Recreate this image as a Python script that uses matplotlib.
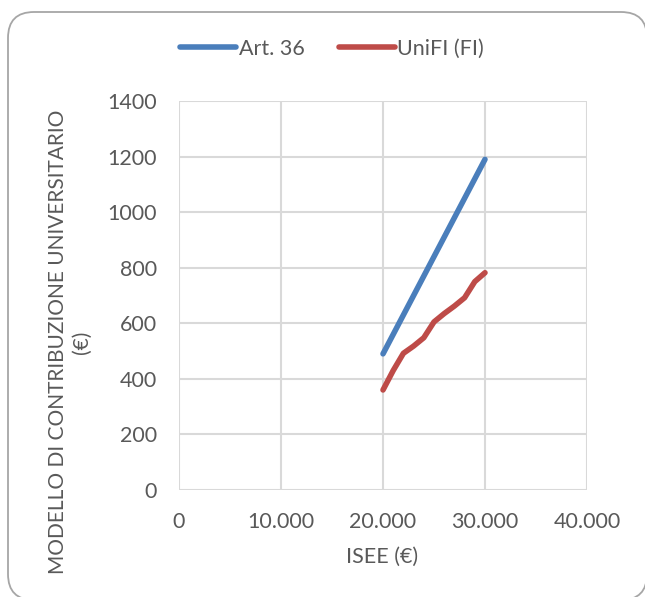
import matplotlib
matplotlib.use("Agg")
import matplotlib.pyplot as plt
from matplotlib.patches import FancyBboxPatch
from matplotlib.ticker import FuncFormatter
from matplotlib.transforms import IdentityTransform

# Data
isee = [20000, 21000, 22000, 23000, 24000, 25000, 26000, 27000, 28000, 29000, 30000]
art36 = [490, 560, 630, 700, 770, 840, 910, 980, 1050, 1120, 1190]
unifi = [360, 430, 492, 518, 548, 605, 635, 662, 692, 750, 782]
series_names = ["Art. 36", "UniFI (FI)"]
x_ticks = [0, 10000, 20000, 30000, 40000]
y_ticks = [0, 200, 400, 600, 800, 1000, 1200, 1400]

plt.rcParams['font.family'] = ['Lato', 'DejaVu Sans']
txt = '#595959'
W, H = 645, 597
fig = plt.figure(figsize=(W/100, H/100), dpi=100)

# rounded chart border (pixel coordinates)
border = FancyBboxPatch((8, -3), 647-8, 585+3,
                        boxstyle="round,pad=0,rounding_size=26",
                        transform=IdentityTransform(), facecolor='white',
                        edgecolor='#a6a6a6', linewidth=1.3, zorder=-5)
fig.patches.append(border)

ax = fig.add_axes([179/W, 1-490/H, (587-179)/W, (490-101)/H])
ax.set_zorder(2)
ax.set_facecolor('none')
ax.plot(isee, art36, color='#4a7ebb', lw=4, solid_capstyle='round',
        solid_joinstyle='round', label=series_names[0], zorder=3)
ax.plot(isee, unifi, color='#be4b48', lw=4, solid_capstyle='round',
        solid_joinstyle='round', label=series_names[1], zorder=3)

ax.set_xlim(0, 40000)
ax.set_ylim(0, 1400)
ax.set_xticks(x_ticks)
ax.set_yticks(y_ticks)
ax.xaxis.set_major_formatter(FuncFormatter(lambda v, p: f"{int(v):,}".replace(",", ".")))
ax.grid(True, color='#d9d9d9', lw=1.5)
ax.set_axisbelow(True)
for s in ax.spines.values():
    s.set_visible(False)
ax.tick_params(length=0, labelsize=15.5, colors=txt, pad=16)
ax.tick_params(axis='y', pad=16)

ax.set_xlabel("ISEE (€)", fontsize=15.5, color=txt)
ax.xaxis.set_label_coords((382 - 179) / 408, -(557 - 490) / 389)
ax.xaxis.label.set_va('center')
ax.set_ylabel("MODELLO DI CONTRIBUZIONE UNIVERSITARIO\n(€)", fontsize=15,
              color=txt, linespacing=1.25)
ax.yaxis.set_label_coords((70 - 179) / 408, (490 - 342) / 389)
ax.yaxis.label.set_va('center')

leg = fig.legend(loc='center', bbox_to_anchor=(332/W, 1-49/H), ncol=2,
                 frameon=False, fontsize=15.5, handlelength=2.6,
                 handletextpad=0.1, columnspacing=1.6)
for t in leg.get_texts():
    t.set_color(txt)
for l in leg.get_lines():
    l.set_solid_capstyle('round')

fig.savefig("out.png", dpi=100)
